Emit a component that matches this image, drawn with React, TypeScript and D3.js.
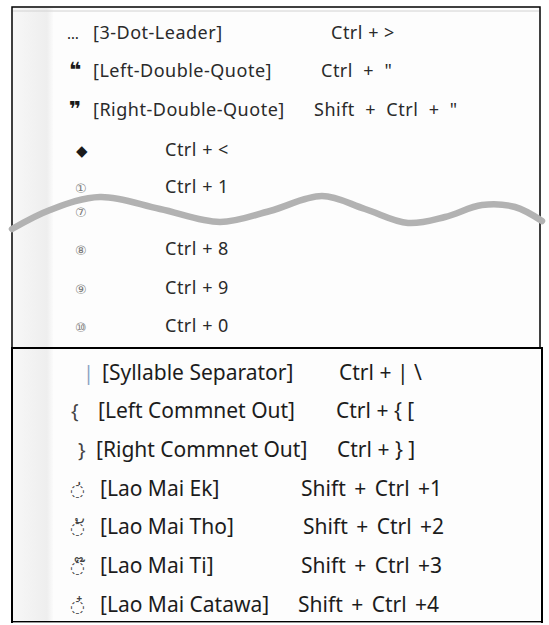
import * as d3 from "d3";

// upper sheet (cut by the wavy tear line)
const topSymbols = ["…", "❝", "❞", "◆", "①", "⑦", "⑧", "⑨", "⑩"];
const topLabels = ["[3-Dot-Leader]", "[Left-Double-Quote]", "[Right-Double-Quote]", "", "", "", "", "", ""];
const topShortcuts = ["Ctrl + >", "Ctrl  +  \"", "Shift  +  Ctrl  +  \"", "Ctrl + <", "Ctrl + 1", "", "Ctrl + 8", "Ctrl + 9", "Ctrl + 0"];
const topSlots = [0, 1, 2, 3.05, 4, 4.63, 5.63, 6.63, 7.63];

// lower sheet
const bottomSymbols = ["|", "{", "}", "\u25CC\u0EC8", "\u25CC\u0EC9", "\u25CC\u0ECA", "\u25CC\u0ECB"];
const bottomLabels = ["[Syllable Separator]", "[Left Commnet Out]", "[Right Commnet Out]", "[Lao Mai Ek]", "[Lao Mai Tho]", "[Lao Mai Ti]", "[Lao Mai Catawa]"];
const bottomShortcuts = ["Ctrl + | \\", "Ctrl + { [", "Ctrl + } ]", "Shift + Ctrl +1", "Shift + Ctrl +2", "Shift + Ctrl +3", "Shift + Ctrl +4"];

// layout
const W = 549;
const H = 625;
const topSymX = [67, 69, 69, 76, 75, 75, 75, 75, 75];
const topLabelX = 93;
const topShortX = [331, 321, 314, 165, 165, 165, 165, 165, 165];
const botSymX = [83, 71, 78, 70, 70, 70, 70];
const botLabelX = [102, 98, 96, 100, 100, 100, 100];
const botShortX = [339, 336, 337, 301, 303, 301, 298];
const tearLine: [number, number][] = [
  [12, 229], [50, 210], [100, 197], [160, 209], [220, 222], [270, 211],
  [322, 196], [365, 209], [408, 223], [445, 217], [482, 205], [515, 207], [542, 221],
];

export default function App() {
  const yTop = d3.scaleLinear().domain([0, 1]).range([38.5, 77]);
  const yBot = d3.scaleLinear().domain([0, 1]).range([379.5, 418.2]);
  const wave = d3.line().curve(d3.curveCatmullRom.alpha(0.5))(tearLine) || "";
  const font = "'Noto Sans', 'DejaVu Sans', sans-serif";

  return (
    <svg width={W} height={H} style={{ position: "absolute", left: 0, top: 0, background: "#fff" }}>
      <defs>
        <linearGradient id="strip" x1="0" x2="1" y1="0" y2="0">
          <stop offset="0" stopColor="#f7f7f7" />
          <stop offset="0.85" stopColor="#eeeeee" />
          <stop offset="1" stopColor="#fbfbfb" />
        </linearGradient>
      </defs>

      {/* upper sheet */}
      <rect x={12} y={7} width={528} height={341} fill="#fdfdfd" stroke="#000" strokeWidth={1.5} />
      <rect x={13} y={8} width={40} height={339} fill="url(#strip)" />
      <line x1={13} x2={539} y1={11} y2={11} stroke="#d2d2d2" strokeWidth={1} />
      <g fontFamily={font} fill="#2a2a2a">
        {topSymbols.map((s, i) => (
          <g key={i} transform={`translate(0,${yTop(topSlots[i])})`}>
            <text
              x={topSymX[i]}
              fontSize={i >= 4 ? 13 : i === 1 || i === 2 ? 21 : 15}
              fontWeight={i === 1 || i === 2 ? "bold" : "normal"}
              fill={i >= 4 ? "#7a7a7a" : "#1a1a1a"}
            >
              {s}
            </text>
            {topLabels[i] && <text x={topLabelX} fontSize={18} letterSpacing={0.5}>{topLabels[i]}</text>}
            {topShortcuts[i] && (
              <text x={topShortX[i]} fontSize={18} letterSpacing={0.5} style={{ whiteSpace: "pre" }}>
                {topShortcuts[i]}
              </text>
            )}
          </g>
        ))}
      </g>
      <path d={wave} fill="none" stroke="#b2b2b2" strokeWidth={6.5} strokeLinecap="round" />

      {/* lower sheet */}
      <rect x={12} y={348} width={530} height={274} fill="#fdfdfd" stroke="#000" strokeWidth={2} />
      <rect x={13} y={349} width={40} height={272} fill="url(#strip)" />
      <line x1={13} x2={541} y1={622.5} y2={622.5} stroke="#999" strokeWidth={1} />
      <g fontFamily={font} fill="#1c1c1c" fontSize={21}>
        {bottomLabels.map((l, i) => (
          <g key={i} transform={`translate(0,${yBot(i)})`}>
            <text x={botSymX[i]} fill={i === 0 ? "#8ea3c4" : "#444"} fontSize={i >= 3 ? 17 : 20}>
              {bottomSymbols[i]}
            </text>
            <text x={botLabelX[i]}>{l}</text>
            <text x={botShortX[i]} wordSpacing={i >= 3 ? 3 : 0} style={{ whiteSpace: "pre" }}>
              {bottomShortcuts[i]}
            </text>
          </g>
        ))}
      </g>
    </svg>
  );
}
